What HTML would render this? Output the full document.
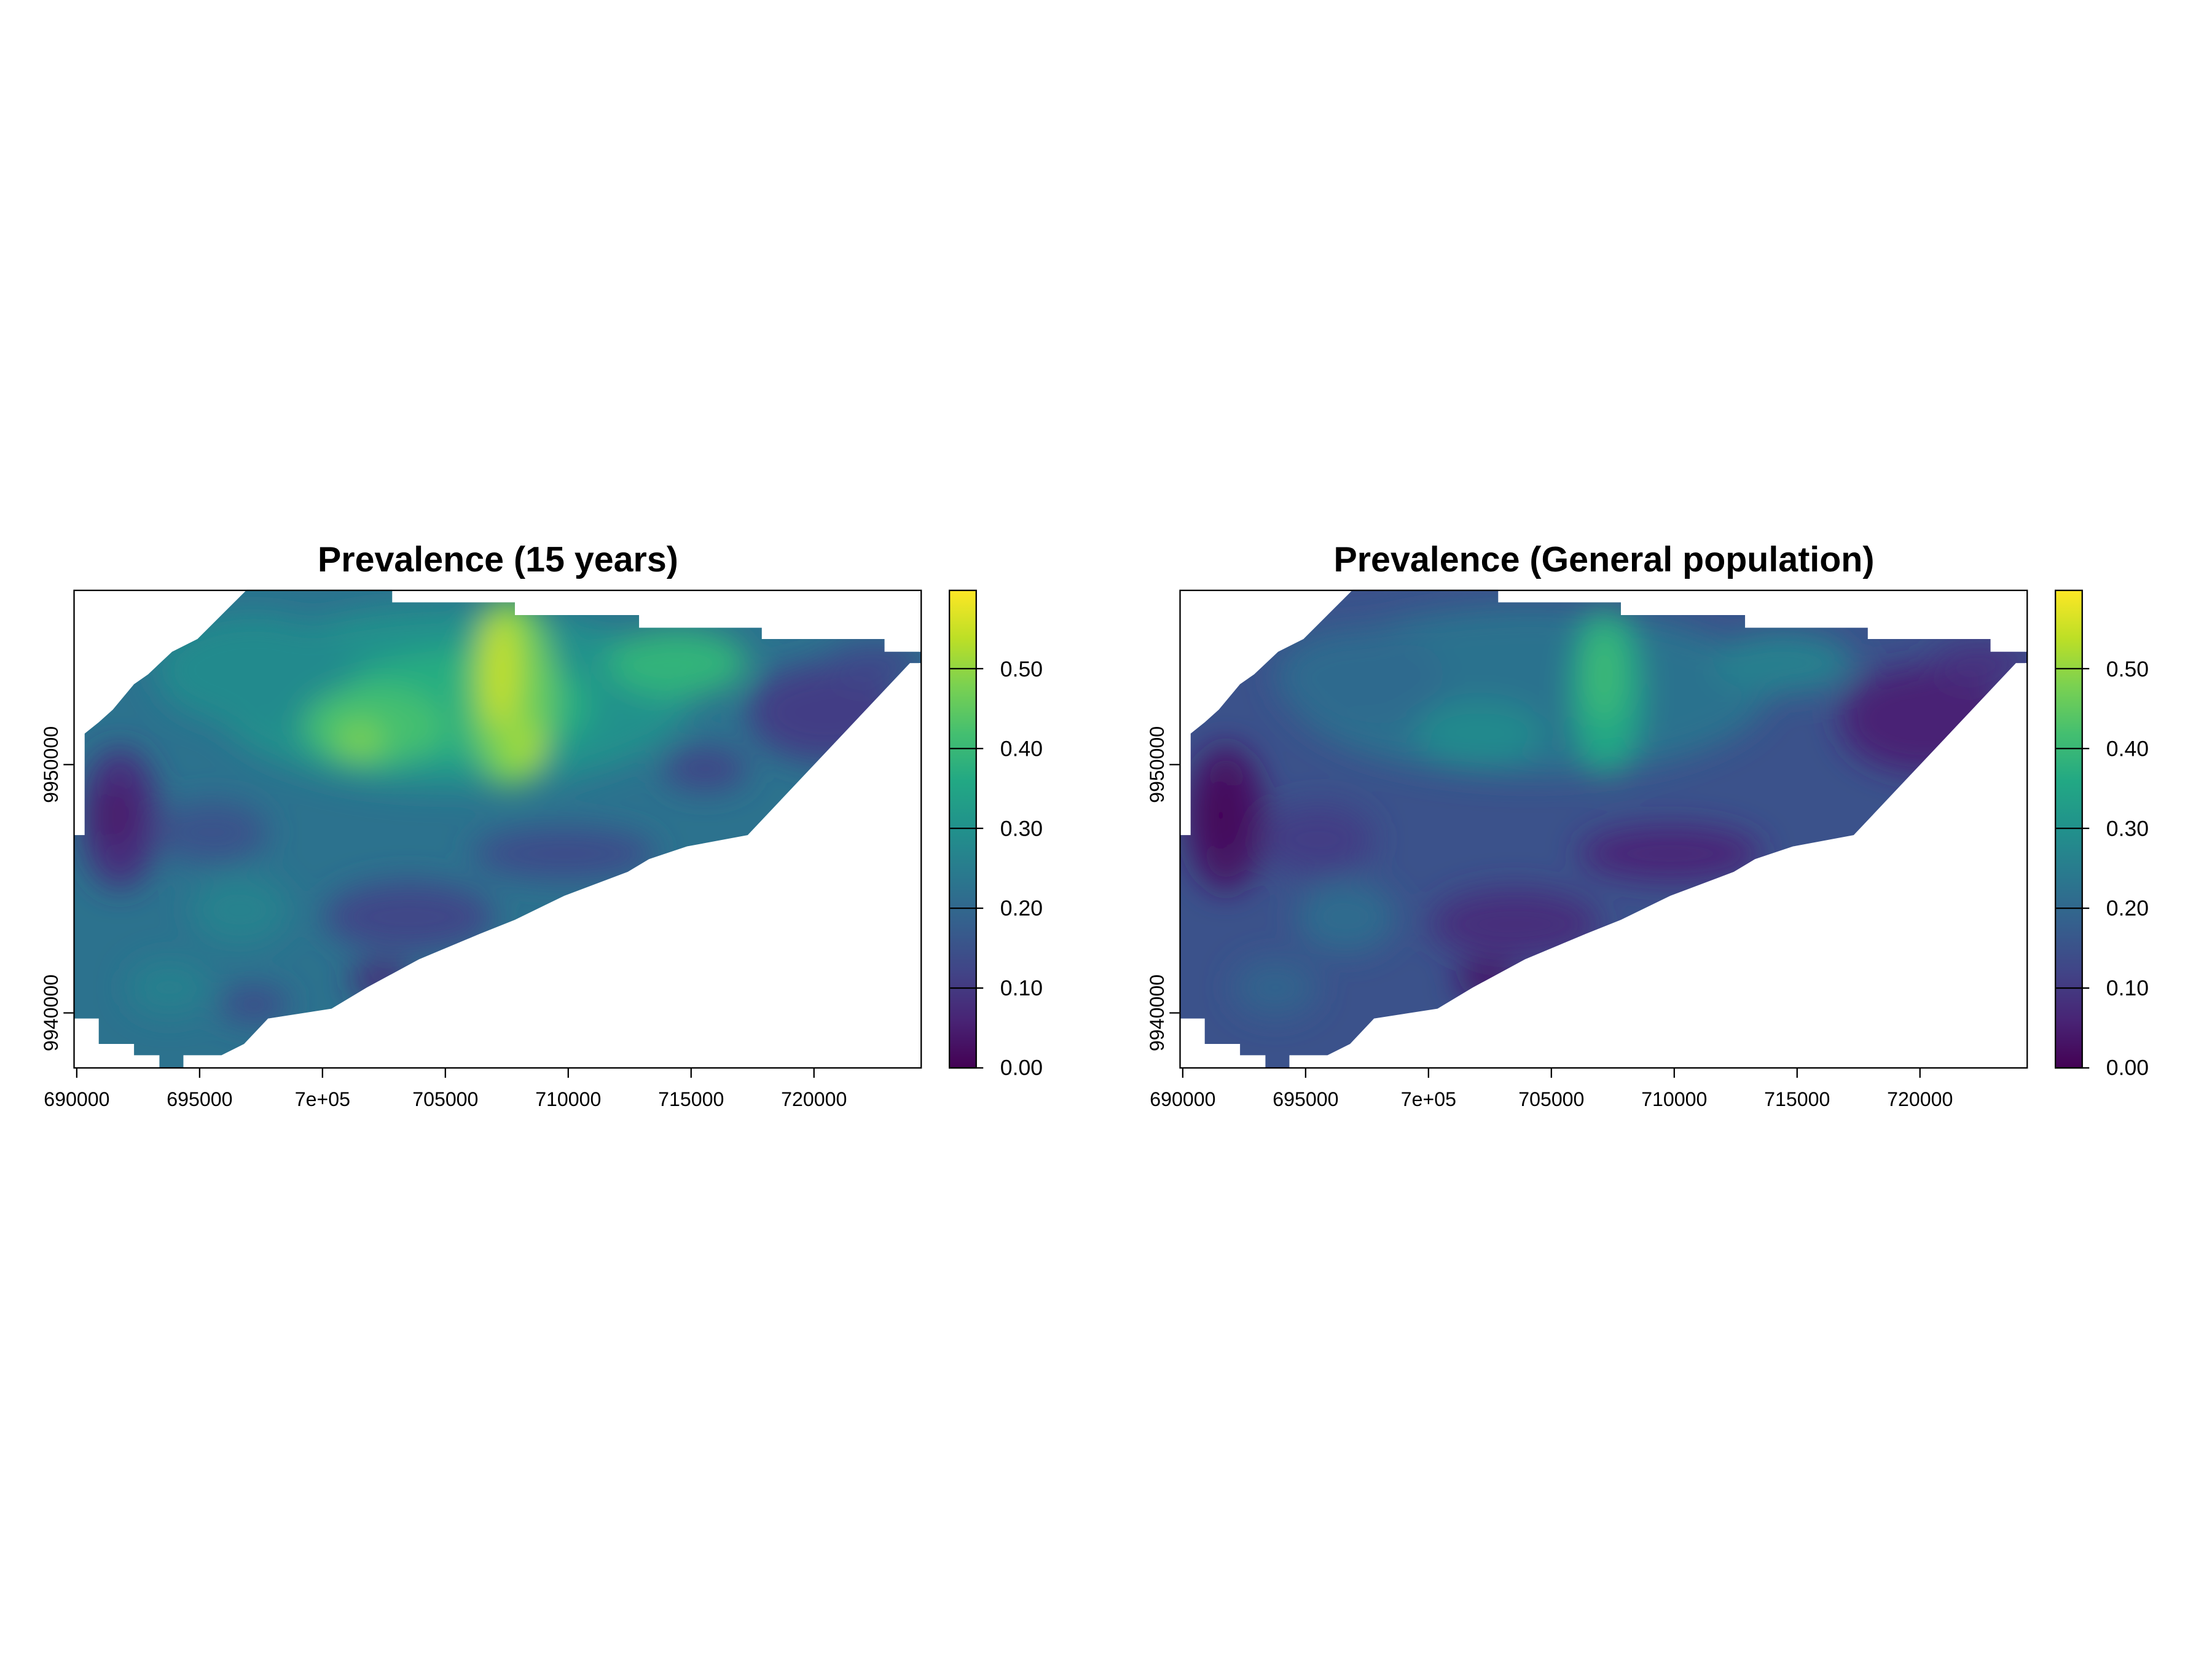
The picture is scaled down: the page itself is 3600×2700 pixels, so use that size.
<!DOCTYPE html>
<html><head><meta charset="utf-8"><style>
html,body{margin:0;padding:0;background:#fff}
svg{display:block}
text{font-family:"Liberation Sans",Arial,sans-serif;fill:#000}
</style></head><body>
<svg width="3600" height="2700" viewBox="0 0 1568 1176" xmlns="http://www.w3.org/2000/svg">
<defs>
<linearGradient id="vir" x1="0" y1="1" x2="0" y2="0">
<stop offset="0" stop-color="#440154"/><stop offset="0.1" stop-color="#482475"/>
<stop offset="0.2" stop-color="#414487"/><stop offset="0.3" stop-color="#355f8d"/>
<stop offset="0.4" stop-color="#2a788e"/><stop offset="0.5" stop-color="#21918c"/>
<stop offset="0.6" stop-color="#22a884"/><stop offset="0.7" stop-color="#44bf70"/>
<stop offset="0.8" stop-color="#7ad151"/><stop offset="0.9" stop-color="#bddf26"/>
<stop offset="1" stop-color="#fde725"/></linearGradient>
<filter id="bl" x="-20%" y="-20%" width="140%" height="140%"><feGaussianBlur stdDeviation="11"/></filter>
<clipPath id="shp"><polygon points="175,418 278,418 278,427 365,427 365,436 453,436 453,445 540,445 540,453 627,453 627,462 653,462 653,470 645,470 530,592 487,600 460,609 445,618 400,635 365,652 340,662 297,680 260,700 235,715 190,722 173,740 157,748 130,748 130,757 113,757 113,748 95,748 95,740 70,740 70,722 52,722 52,592 60,592 60,520 70,512 80,503 95,485 105,478 122,462 140,453 157,436"/></clipPath>
</defs>

<!-- LEFT PLOT -->
<g clip-path="url(#shp)">
<rect x="40" y="400" width="640" height="380" fill="#2c728e"/>
<g filter="url(#bl)">
<ellipse cx="320" cy="495" rx="170" ry="65" fill="#21918c"/>
<ellipse cx="180" cy="475" rx="70" ry="40" fill="#238a8d"/>
<ellipse cx="330" cy="500" rx="90" ry="40" fill="#27ad81"/>
<ellipse cx="480" cy="470" rx="50" ry="24" fill="#30b47a"/>
<ellipse cx="265" cy="515" rx="50" ry="28" fill="#44bf70"/>
<ellipse cx="255" cy="525" rx="16" ry="13" fill="#7ad151"/>
<ellipse cx="362" cy="490" rx="30" ry="68" fill="#6ece58"/>
<ellipse cx="355" cy="475" rx="12" ry="42" fill="#c8e020"/>
<ellipse cx="372" cy="530" rx="14" ry="18" fill="#a0da39"/>
<ellipse cx="85" cy="580" rx="28" ry="50" fill="#472f7d"/>
<ellipse cx="82" cy="578" rx="13" ry="20" fill="#481668"/>
<ellipse cx="585" cy="505" rx="55" ry="35" fill="#433e85"/>
<ellipse cx="500" cy="545" rx="30" ry="15" fill="#414487"/>
<ellipse cx="620" cy="470" rx="35" ry="15" fill="#3e4989"/>
<ellipse cx="290" cy="650" rx="60" ry="25" fill="#3f4788"/>
<ellipse cx="270" cy="695" rx="22" ry="12" fill="#482878"/>
<ellipse cx="400" cy="605" rx="65" ry="18" fill="#3e4c8a"/>
<ellipse cx="170" cy="645" rx="35" ry="25" fill="#26828e"/>
<ellipse cx="120" cy="700" rx="30" ry="20" fill="#27808e"/>
<ellipse cx="180" cy="712" rx="25" ry="12" fill="#3e4989"/>
<ellipse cx="150" cy="590" rx="40" ry="22" fill="#3b528b"/>
</g>
</g>
<rect x="52.5" y="418.5" width="600.5" height="338.5" fill="none" stroke="#000" stroke-width="1"/>
<text x="353" y="405" font-size="25" font-weight="bold" text-anchor="middle">Prevalence (15 years)</text>
<g stroke="#000" stroke-width="1">
<line x1="54.4" y1="757" x2="54.4" y2="764"/><line x1="141.5" y1="757" x2="141.5" y2="764"/>
<line x1="228.6" y1="757" x2="228.6" y2="764"/><line x1="315.7" y1="757" x2="315.7" y2="764"/>
<line x1="402.8" y1="757" x2="402.8" y2="764"/><line x1="489.9" y1="757" x2="489.9" y2="764"/>
<line x1="577" y1="757" x2="577" y2="764"/>
<line x1="45" y1="542" x2="52" y2="542"/><line x1="45" y1="718" x2="52" y2="718"/>
</g>
<g font-size="14" text-anchor="middle">
<text x="54.4" y="784">690000</text><text x="141.5" y="784">695000</text><text x="228.6" y="784">7e+05</text>
<text x="315.7" y="784">705000</text><text x="402.8" y="784">710000</text><text x="489.9" y="784">715000</text><text x="577" y="784">720000</text>
<text transform="translate(41,542) rotate(-90)">9950000</text>
<text transform="translate(41,718) rotate(-90)">9940000</text>
</g>
<rect x="673" y="418.5" width="19" height="338.5" fill="url(#vir)" stroke="#000" stroke-width="1"/>
<g stroke="#000" stroke-width="1">
<line x1="673" y1="757" x2="697" y2="757"/><line x1="673" y1="700.4" x2="697" y2="700.4"/>
<line x1="673" y1="643.8" x2="697" y2="643.8"/><line x1="673" y1="587.2" x2="697" y2="587.2"/>
<line x1="673" y1="530.6" x2="697" y2="530.6"/><line x1="673" y1="474" x2="697" y2="474"/>
</g>
<g font-size="15.5">
<text x="709" y="762">0.00</text><text x="709" y="705.5">0.10</text><text x="709" y="649">0.20</text>
<text x="709" y="592.5">0.30</text><text x="709" y="536">0.40</text><text x="709" y="479.5">0.50</text>
</g>

<!-- RIGHT PLOT -->
<g transform="translate(784,0)">
<g clip-path="url(#shp)">
<rect x="40" y="400" width="640" height="380" fill="#3b528b"/>
<g filter="url(#bl)">
<ellipse cx="300" cy="490" rx="170" ry="60" fill="#2c728e"/>
<ellipse cx="180" cy="480" rx="60" ry="35" fill="#2f6b8e"/>
<ellipse cx="480" cy="470" rx="50" ry="22" fill="#27808e"/>
<ellipse cx="265" cy="520" rx="45" ry="22" fill="#238a8d"/>
<ellipse cx="355" cy="490" rx="25" ry="60" fill="#22a785"/>
<ellipse cx="353" cy="478" rx="11" ry="35" fill="#3fbc73"/>
<ellipse cx="85" cy="580" rx="28" ry="52" fill="#471365"/>
<ellipse cx="82" cy="578" rx="13" ry="22" fill="#450559"/>
<ellipse cx="580" cy="510" rx="60" ry="38" fill="#482475"/>
<ellipse cx="620" cy="470" rx="35" ry="15" fill="#46337f"/>
<ellipse cx="290" cy="655" rx="60" ry="25" fill="#472d7b"/>
<ellipse cx="270" cy="695" rx="22" ry="12" fill="#471063"/>
<ellipse cx="400" cy="605" rx="65" ry="20" fill="#482878"/>
<ellipse cx="170" cy="650" rx="35" ry="25" fill="#2f6c8e"/>
<ellipse cx="120" cy="700" rx="30" ry="20" fill="#33638d"/>
<ellipse cx="150" cy="595" rx="40" ry="25" fill="#433e85"/>
</g>
</g>
<rect x="52.5" y="418.5" width="600.5" height="338.5" fill="none" stroke="#000" stroke-width="1"/>
<text x="353" y="405" font-size="25" font-weight="bold" text-anchor="middle">Prevalence (General population)</text>
<g stroke="#000" stroke-width="1">
<line x1="54.4" y1="757" x2="54.4" y2="764"/><line x1="141.5" y1="757" x2="141.5" y2="764"/>
<line x1="228.6" y1="757" x2="228.6" y2="764"/><line x1="315.7" y1="757" x2="315.7" y2="764"/>
<line x1="402.8" y1="757" x2="402.8" y2="764"/><line x1="489.9" y1="757" x2="489.9" y2="764"/>
<line x1="577" y1="757" x2="577" y2="764"/>
<line x1="45" y1="542" x2="52" y2="542"/><line x1="45" y1="718" x2="52" y2="718"/>
</g>
<g font-size="14" text-anchor="middle">
<text x="54.4" y="784">690000</text><text x="141.5" y="784">695000</text><text x="228.6" y="784">7e+05</text>
<text x="315.7" y="784">705000</text><text x="402.8" y="784">710000</text><text x="489.9" y="784">715000</text><text x="577" y="784">720000</text>
<text transform="translate(41,542) rotate(-90)">9950000</text>
<text transform="translate(41,718) rotate(-90)">9940000</text>
</g>
<rect x="673" y="418.5" width="19" height="338.5" fill="url(#vir)" stroke="#000" stroke-width="1"/>
<g stroke="#000" stroke-width="1">
<line x1="673" y1="757" x2="697" y2="757"/><line x1="673" y1="700.4" x2="697" y2="700.4"/>
<line x1="673" y1="643.8" x2="697" y2="643.8"/><line x1="673" y1="587.2" x2="697" y2="587.2"/>
<line x1="673" y1="530.6" x2="697" y2="530.6"/><line x1="673" y1="474" x2="697" y2="474"/>
</g>
<g font-size="15.5">
<text x="709" y="762">0.00</text><text x="709" y="705.5">0.10</text><text x="709" y="649">0.20</text>
<text x="709" y="592.5">0.30</text><text x="709" y="536">0.40</text><text x="709" y="479.5">0.50</text>
</g>
</g>
</svg>
</body></html>
